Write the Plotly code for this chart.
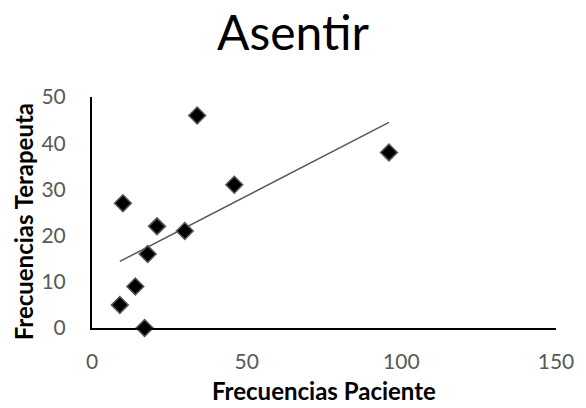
import numpy as np
import plotly.graph_objects as go

paciente = [9, 10, 14, 17, 18, 21, 30, 34, 46, 96]
terapeuta = [5, 27, 9, 0, 16, 22, 21, 46, 31, 38]
x_ticks = [0, 50, 100, 150]
y_ticks = [0, 10, 20, 30, 40, 50]

slope, intercept = np.polyfit(paciente, terapeuta, 1)
tx = [min(paciente), max(paciente)]
ty = [slope * v + intercept for v in tx]

W, H = 586, 408
L, R, T, B = 92, 21, 97, 80
pw, ph = W - L - R, H - T - B


def px(xp):
    return (xp - L) / pw


def py(yp):
    return (H - B - yp) / ph


fig = go.Figure()
fig.add_trace(go.Scatter(x=tx, y=ty, mode="lines",
                         line=dict(color="#595959", width=1.5),
                         hoverinfo="skip", showlegend=False))
fig.add_trace(go.Scatter(x=paciente, y=terapeuta, mode="markers",
                         marker=dict(symbol="diamond", size=13, color="black",
                                     line=dict(color="#5a5a5a", width=1.5)),
                         cliponaxis=False, showlegend=False))

fig.update_layout(
    width=W, height=H,
    margin=dict(l=L, r=R, t=T, b=B),
    paper_bgcolor="white", plot_bgcolor="white",
    font=dict(family="Lato", color="#595959", size=21),
    title=dict(text="Asentir", x=0.5, xanchor="center", y=1 - 33 / H, yanchor="middle",
               font=dict(size=48, color="black", family="Lato")),
    xaxis=dict(range=[0, 150], tickvals=x_ticks, showgrid=False, zeroline=False,
               showline=True, linecolor="black", linewidth=2, ticks="",
               tickfont=dict(size=21, color="#595959"), ticklabelstandoff=14),
    yaxis=dict(range=[0, 50], tickvals=y_ticks, showgrid=False, zeroline=False,
               showline=True, linecolor="black", linewidth=2, ticks="",
               tickfont=dict(size=21, color="#595959"), ticklabelstandoff=20),
    annotations=[
        dict(text="<b>Frecuencias Paciente</b>", xref="paper", yref="paper",
             x=0.5, y=py(390), xanchor="center", yanchor="middle", showarrow=False,
             font=dict(size=24, color="black", family="Lato")),
        dict(text="<b>Frecuencias Terapeuta</b>", xref="paper", yref="paper",
             x=px(22), y=py(222), xanchor="center", yanchor="middle", showarrow=False,
             textangle=-90, font=dict(size=24, color="black", family="Lato")),
    ],
)

fig.write_html("out.html")
